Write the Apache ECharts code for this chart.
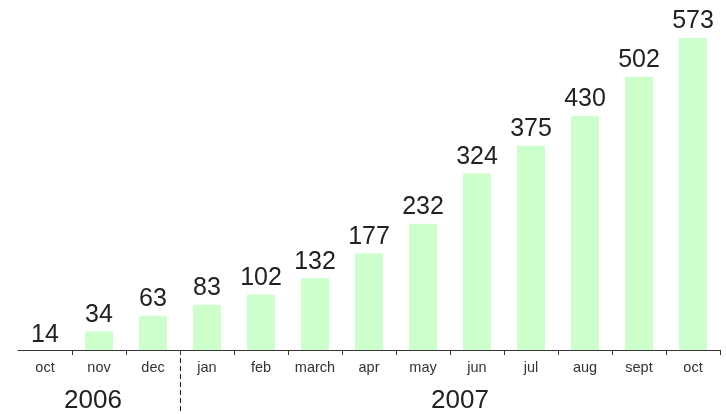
<!DOCTYPE html>
<html><head><meta charset="utf-8">
<script src="https://cdn.jsdelivr.net/npm/echarts@6/dist/echarts.min.js"></script>
<style>html,body{margin:0;padding:0;background:#fff}#c{width:726px;height:414px}</style>
</head><body><div id="c"></div>
<script>
const months = ['oct','nov','dec','jan','feb','march','apr','may','jun','jul','aug','sept','oct'];
const values = [14,34,63,83,102,132,177,232,324,375,430,502,573];
const years = ['2006','2007'];
const yearSpans = [[0,2],[3,12]];

const FONT = '"Liberation Sans", Arial, sans-serif';
const cats = months.map((m,i)=>i+'|'+m);
const chart = echarts.init(document.getElementById('c'));
const option = {
  animation:false,
  grid:{left:18,right:6,top:38,bottom:64},
  xAxis:{type:'category',data:cats,
    axisLine:{lineStyle:{color:'#333',width:1}},
    axisTick:{show:true,length:5,lineStyle:{color:'#333'},interval:(i)=>i!==0},
    axisLabel:{interval:0,color:'#333',fontSize:14.5,fontFamily:FONT,margin:10,formatter:v=>v.split('|')[1]}},
  yAxis:{type:'value',min:0,max:573,show:false,splitLine:{show:false}},
  series:[{type:'bar',barWidth:28,
    data:values.map((v,i)=>i===0?{value:v,itemStyle:{color:'rgba(0,0,0,0)'},label:{distance:-5}}:v),
    itemStyle:{color:'#ccffcc'},
    label:{show:true,position:'top',distance:4,color:'#222',fontSize:25,fontFamily:FONT}}]
};
chart.setOption(option);
function decorate(){
  const x0 = chart.convertToPixel({xAxisIndex:0},cats[0]);
  const x1 = chart.convertToPixel({xAxisIndex:0},cats[1]);
  const band = x1-x0;
  const yAxis = chart.convertToPixel({yAxisIndex:0},0);
  const sepX = Math.round(chart.convertToPixel({xAxisIndex:0},cats[yearSpans[0][1]])+band/2)+0.5;
  const g = [{type:'line',shape:{x1:sepX,y1:yAxis,x2:sepX,y2:414},style:{stroke:'#111',lineWidth:1,lineDash:[5,3]}}];
  years.forEach((y,k)=>{
    const a = chart.convertToPixel({xAxisIndex:0},cats[yearSpans[k][0]]);
    const b = chart.convertToPixel({xAxisIndex:0},cats[yearSpans[k][1]]);
    g.push({type:'text',x:(a+b)/2+(k===0?-6:10),y:yAxis+51,style:{text:y,fill:'#222',font:'26px '+FONT,textAlign:'center',textVerticalAlign:'middle'}});
  });
  chart.setOption({graphic:g});
}
decorate();
</script></body></html>
